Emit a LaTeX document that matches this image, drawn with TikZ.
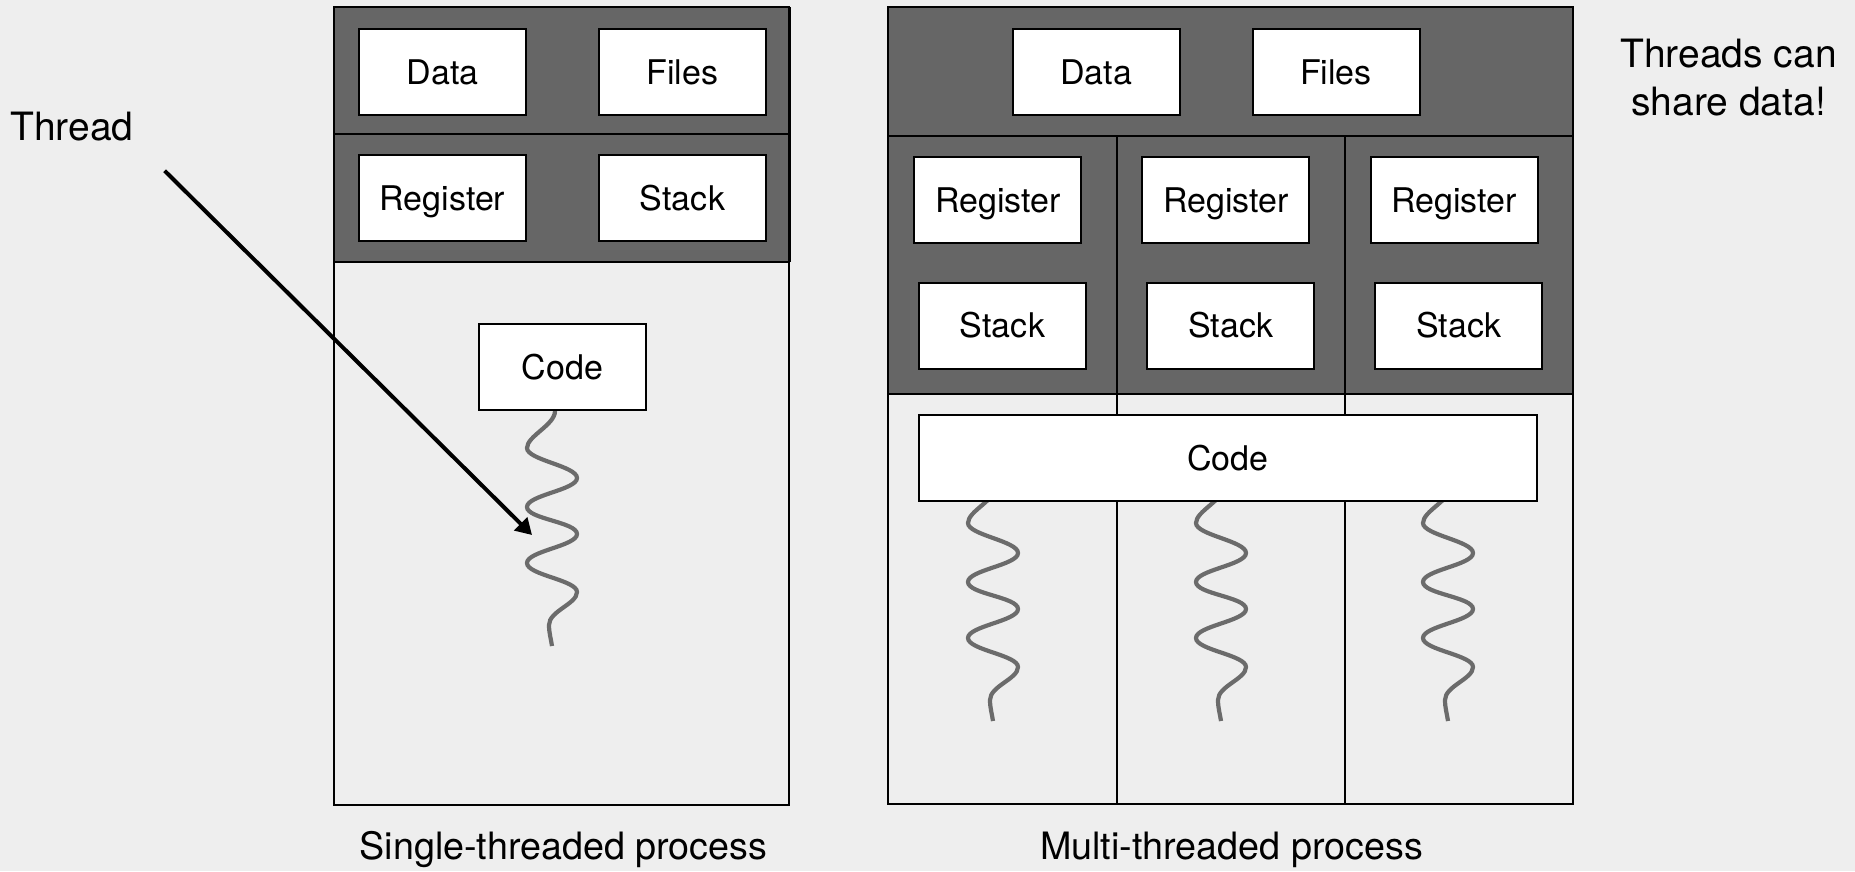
\documentclass[tikz,border=0pt]{standalone}
\usepackage{fontspec}
\setmainfont{TeX Gyre Heros}
\usetikzlibrary{arrows.meta}
\definecolor{paper}{HTML}{EEEEEE}
\definecolor{band}{HTML}{666666}
\definecolor{wavegray}{HTML}{6B6B6B}
\begin{document}
\begin{tikzpicture}[x=1pt,y=-1pt,
  box/.style={draw=black, fill=white, line width=2pt, minimum width=167pt,
    minimum height=86pt, inner sep=0pt, text height=24.5pt, text depth=0pt,
    font=\fontsize{34}{40}\selectfont},
  panel/.style={draw=black, line width=2pt},
  shared/.style={panel, fill=band},
  caption/.style={font=\fontsize{37.7}{44}\selectfont, anchor=base, inner sep=0pt},
  note/.style={font=\fontsize{39}{48}\selectfont, inner sep=0pt},
  wavepath/.style={draw=wavegray, line width=4.2pt},
  pics/threadwave/.style={code={
    \draw[wavepath] (0,0) .. controls (0,14) and (-28,25) .. (-28,37)
      .. controls (-28,49) and (22,55) .. (22,67)
      .. controls (22,79) and (-28,84) .. (-28,96)
      .. controls (-28,108) and (22,111) .. (22,123)
      .. controls (22,135) and (-28,140) .. (-28,152)
      .. controls (-28,164) and (22,169) .. (22,181)
      .. controls (22,193) and (-6,200) .. (-6,214)
      .. controls (-6,222) and (-4,228) .. (-3,235);
  }},
]
% canvas
\fill[paper] (0,0) rectangle (1855,871);
\useasboundingbox (0,0) rectangle (1855,871);

% ---- single-threaded process ----
\draw[panel, fill=paper] (334,262) rectangle (789,805);
\draw[shared] (334,7) rectangle (789,134);
\draw[shared] (334,134) rectangle (789,262);
\draw[line width=3pt] (789,7) -- (789,262);
\node[box] (sData)  at (442.5,72) {Data};
\node[box] (sFiles) at (682.5,72) {Files};
\node[box] (sReg)   at (442.5,198) {Register};
\node[box] (sStack) at (682.5,198) {Stack};
\pic at (555,411) {threadwave};
\node[box] (sCode)  at (562.5,367) {Code};

% ---- multi-threaded process ----
\draw[panel] (888,136) rectangle (1573,804);
\draw[panel] (1117,394) -- (1117,804);
\draw[panel] (1345,394) -- (1345,804);
\draw[shared] (888,7) rectangle (1573,136);
\draw[shared] (888,136) rectangle (1117,394);
\draw[shared] (1117,136) rectangle (1345,394);
\draw[shared] (1345,136) rectangle (1573,394);
\node[box] (mData)  at (1096,72) {Data};
\node[box] (mFiles) at (1336,72) {Files};
\node[box] (mRegA)  at (997.8,200) {Register};
\node[box] (mRegB)  at (1225.8,200) {Register};
\node[box] (mRegC)  at (1454,200) {Register};
\node[box] (mStackA) at (1002.5,325.5) {Stack};
\node[box] (mStackB) at (1230.7,325.5) {Stack};
\node[box] (mStackC) at (1458.8,325.5) {Stack};
\pic at (996,486) {threadwave};
\pic at (1224,486) {threadwave};
\pic at (1451,486) {threadwave};
\node[box, minimum width=618.5pt] (mCode) at (1228,458) {Code};

% ---- labels ----
\node[note, anchor=base west] (threadLabel) at (10,140) {Thread};
\coordinate (threadTail) at (164.6,170.7);
\coordinate (threadTip) at (532,535);
\draw[line width=4pt, -{Triangle[length=16pt,width=18pt]}] (threadTail) -- (threadTip);

\node[caption] (singleCap) at (563.5,859) {Single-threaded process};
\node[caption] (multiCap) at (1231.5,859) {Multi-threaded process};
\node[note, align=center, anchor=base] (shareNote) at (1728.5,115) {Threads can\\share data!};
\end{tikzpicture}
\end{document}
